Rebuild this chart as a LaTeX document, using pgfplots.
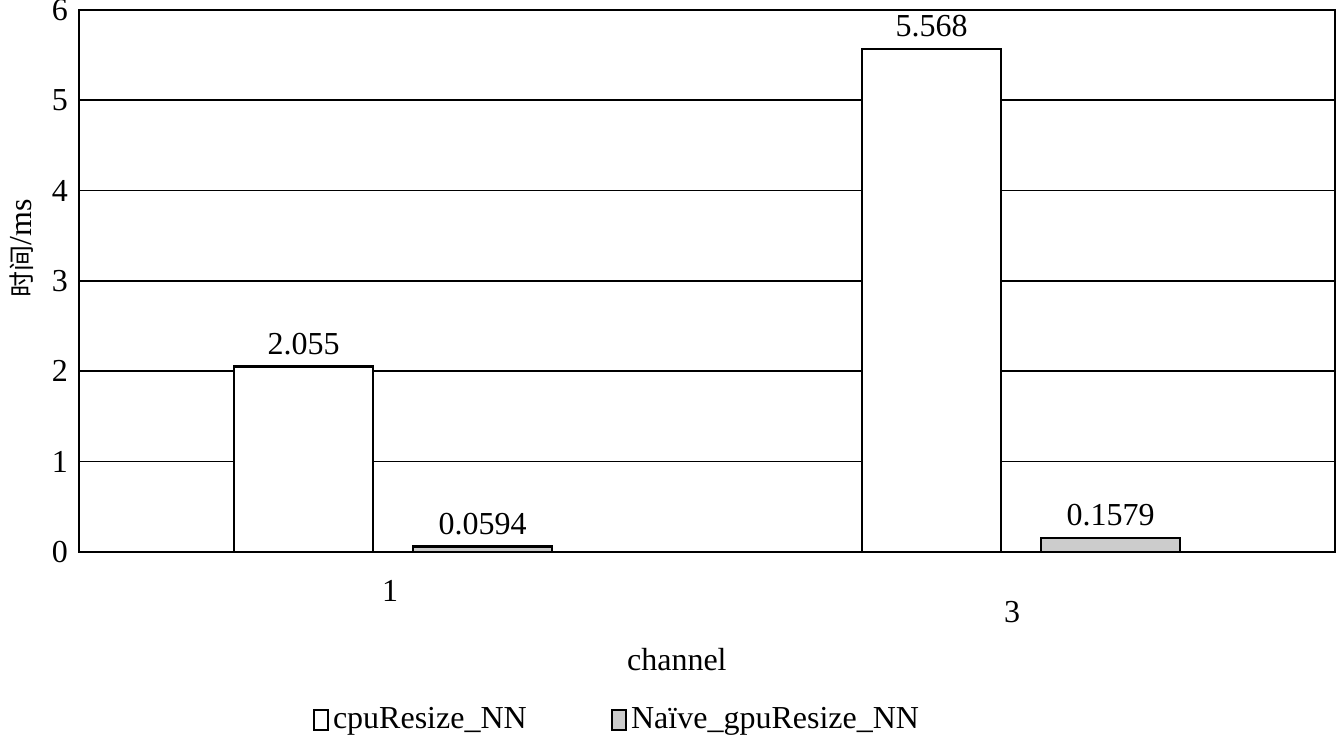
\documentclass[border=0pt]{standalone}
\usepackage{pgfplots}
\pgfplotsset{compat=1.18}
\usepackage{fontspec}
\setmainfont{Liberation Serif}
\newfontfamily\cjk{Noto Sans CJK SC}
\begin{document}
\fontsize{16pt}{19pt}\selectfont
\begin{tikzpicture}
\begin{axis}[
  scale only axis, width=628pt, height=271pt,
  xmin=0.5, xmax=2.5, ymin=0, ymax=6,
  ybar=20pt, bar width=69.5pt,
  xtick={1}, xticklabels={1},
  xticklabel style={yshift=-8.5pt, xshift=-1.5pt},
  extra x ticks={2}, extra x tick labels={3},
  extra x tick style={xticklabel style={yshift=-10.5pt, xshift=-3pt}},
  ytick={0,1,2,3,4,5,6},
  ymajorgrids, major grid style={black, line width=0.5pt},
  extra y ticks={2,3,5}, extra y tick labels={},
  extra y tick style={ymajorgrids, major grid style={black, line width=1.1pt}},
  major tick length=0,
  axis line style={line width=1pt},
  /pgf/number format/assume math mode=true,
  point meta=explicit symbolic,
  nodes near coords,
  xlabel={channel},
  xlabel style={at={(axis description cs:0.476,-0.199)}, anchor=center},
  ylabel={{\cjk\fontsize{13pt}{15pt}\selectfont 时间}/ms},
  ylabel style={at={(axis description cs:-0.0454,0.56)}, anchor=center},
  legend columns=2,
  legend style={draw=none, at={(axis description cs:0.429,-0.31)}, anchor=center,
    /tikz/every even column/.append style={column sep=40pt}},
  legend image code/.code={\draw[#1, line width=1.2pt] (0pt,-5pt) rectangle (7pt,5pt);},
]
\addplot[fill=white, draw=black, line width=1.2pt] coordinates {(1,2.055) [2.055] (2,5.568) [5.568]};
\addplot[fill=gray!40, draw=black, line width=1.2pt] coordinates {(1,0.0594) [0.0594] (2,0.1579) [0.1579]};
\legend{cpuResize\_NN, Naïve\_gpuResize\_NN}
\end{axis}
\pgfresetboundingbox
\path[use as bounding box] (-39.5pt,-93.5pt) rectangle (629pt,276pt);
\end{tikzpicture}
\end{document}
